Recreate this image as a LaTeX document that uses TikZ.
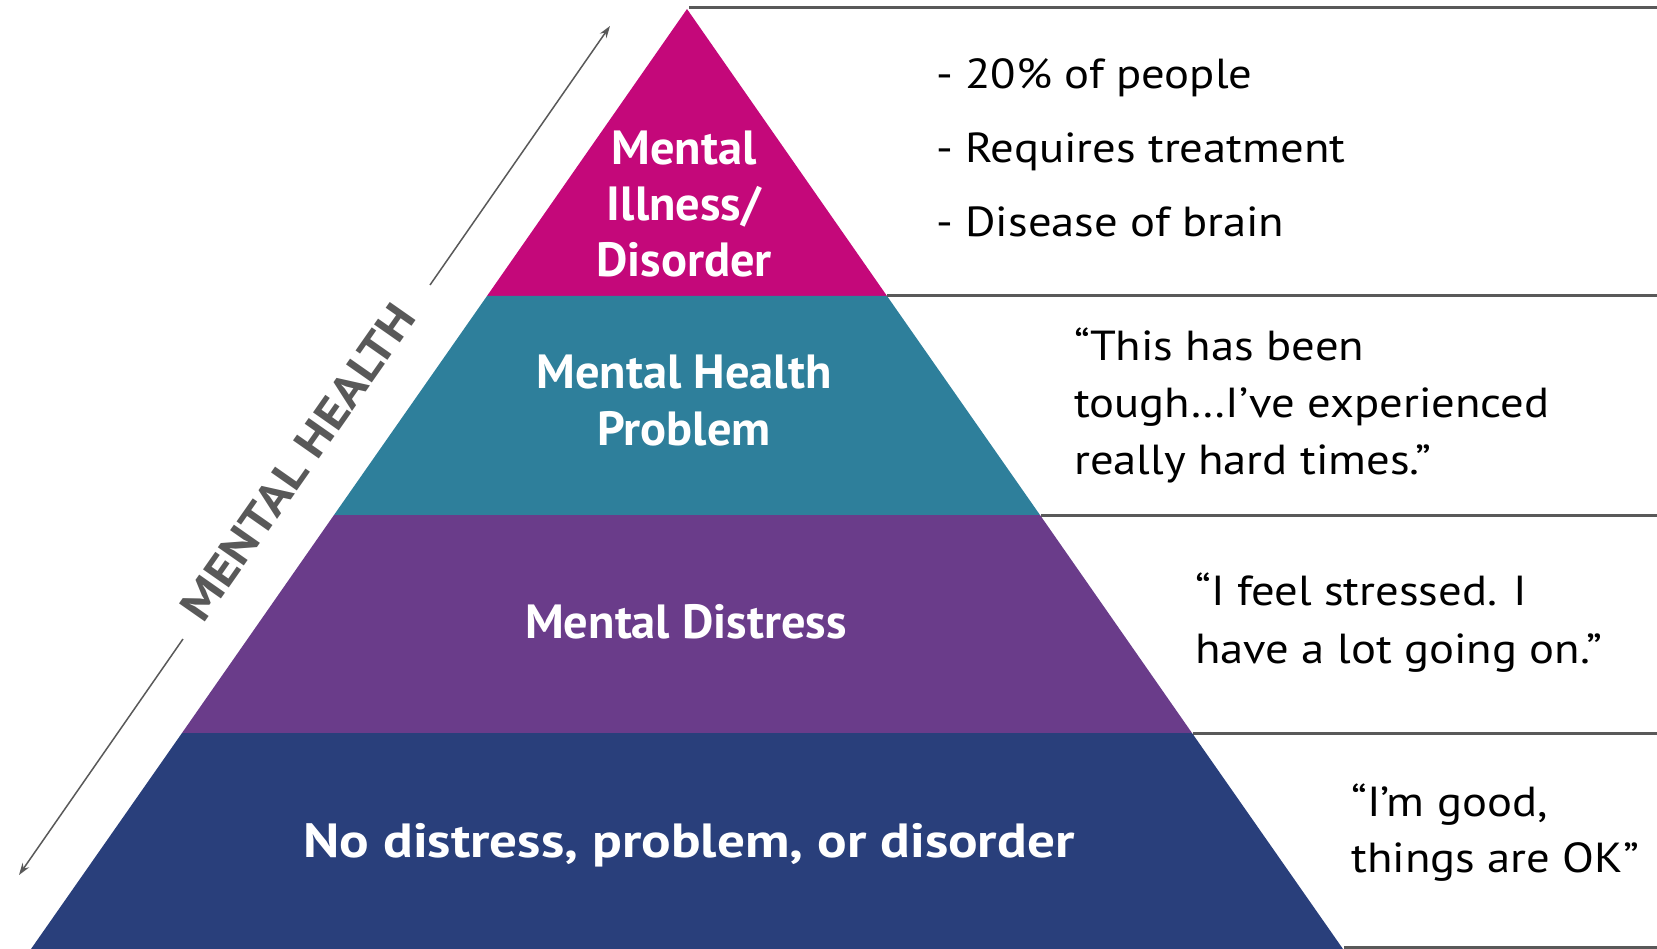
\documentclass[tikz,border=0pt]{standalone}
\usepackage{fontspec}
\setmainfont{PT Sans}[FakeStretch=1.11]
\newfontfamily\labfont{PT Sans}[FakeStretch=1.15]
\newfontfamily\labplain{PT Sans}[FakeStretch=1.01]
\usetikzlibrary{arrows.meta}
\definecolor{cMag}{RGB}{196,8,122}
\definecolor{cTeal}{RGB}{46,127,155}
\definecolor{cPurp}{RGB}{106,60,138}
\definecolor{cNavy}{RGB}{41,63,123}
\definecolor{cGray}{RGB}{89,89,89}
\tikzset{
  layerlabel/.style={text=white, font=\labplain\bfseries\fontsize{48}{56}\selectfont, align=center, inner sep=0pt},
  sidetext/.style={text=black, anchor=west, align=left, inner sep=0pt},
  rule/.style={draw=cGray, line width=3pt},
  axisarrow/.style={draw=cGray, line width=1.5pt, -{Stealth[length=12pt,width=8pt]}},
}
\begin{document}
\begin{tikzpicture}[x=1pt,y=-1pt]
\useasboundingbox (0,0) rectangle (1657,949);
% layers
\fill[cMag]  (687,9) -- (887,296) -- (487,296) -- cycle;
\fill[cTeal] (487,296) -- (887,296) -- (1040,515) -- (334,515) -- cycle;
\fill[cPurp] (334,515) -- (1040,515) -- (1192,733) -- (182,733) -- cycle;
\fill[cNavy] (182,733) -- (1192,733) -- (1343,949) -- (31,949) -- cycle;
% rules on the right
\draw[rule] (689,8) -- (1657,8);
\draw[rule] (887,296) -- (1657,296);
\draw[rule] (1041,515) -- (1657,515);
\draw[rule] (1193,733) -- (1657,733);
\draw[rule] (1344,947) -- (1657,947);
% layer labels
\node[layerlabel] (l1) at (684,204) {Mental\\Illness/\\Disorder};
\node[layerlabel, font=\labplain\bfseries\fontsize{48}{57}\selectfont] (l2) at (684,401) {Mental Health\\Problem};
\node[layerlabel] (l3) at (686,622) {Mental Distress};
\node[layerlabel, font=\labfont\bfseries\fontsize{48}{56}\selectfont] (l4) at (689,845) {No distress, problem, or disorder};
% side texts
\node[sidetext, font=\fontsize{42}{74}\selectfont] (s1) at (936,148) {- 20\% of people\\- Requires treatment\\- Disease of brain};
\node[sidetext, font=\fontsize{42}{57}\selectfont] (s2) at (1074,405) {“This has been\\tough…I’ve experienced\\really hard times.”};
\node[sidetext, font=\fontsize{42}{58}\selectfont] (s3) at (1195,623) {“I feel stressed. I\\have a lot going on.”};
\node[sidetext, font=\fontsize{42}{56}\selectfont] (s4) at (1351,833) {“I’m good,\\things are OK”};
% axis
\node[text=cGray, font=\labfont\bfseries\fontsize{45}{50}\selectfont, rotate=55, inner sep=0pt] (mh) at (298,462) {MENTAL HEALTH};
\coordinate (atop) at (610,26);
\coordinate (abot) at (19,875);
\coordinate (gtop) at (430,285);
\coordinate (gbot) at (183,639);
\draw[axisarrow] (gtop) -- (atop);
\draw[axisarrow] (gbot) -- (abot);
\end{tikzpicture}
\end{document}
